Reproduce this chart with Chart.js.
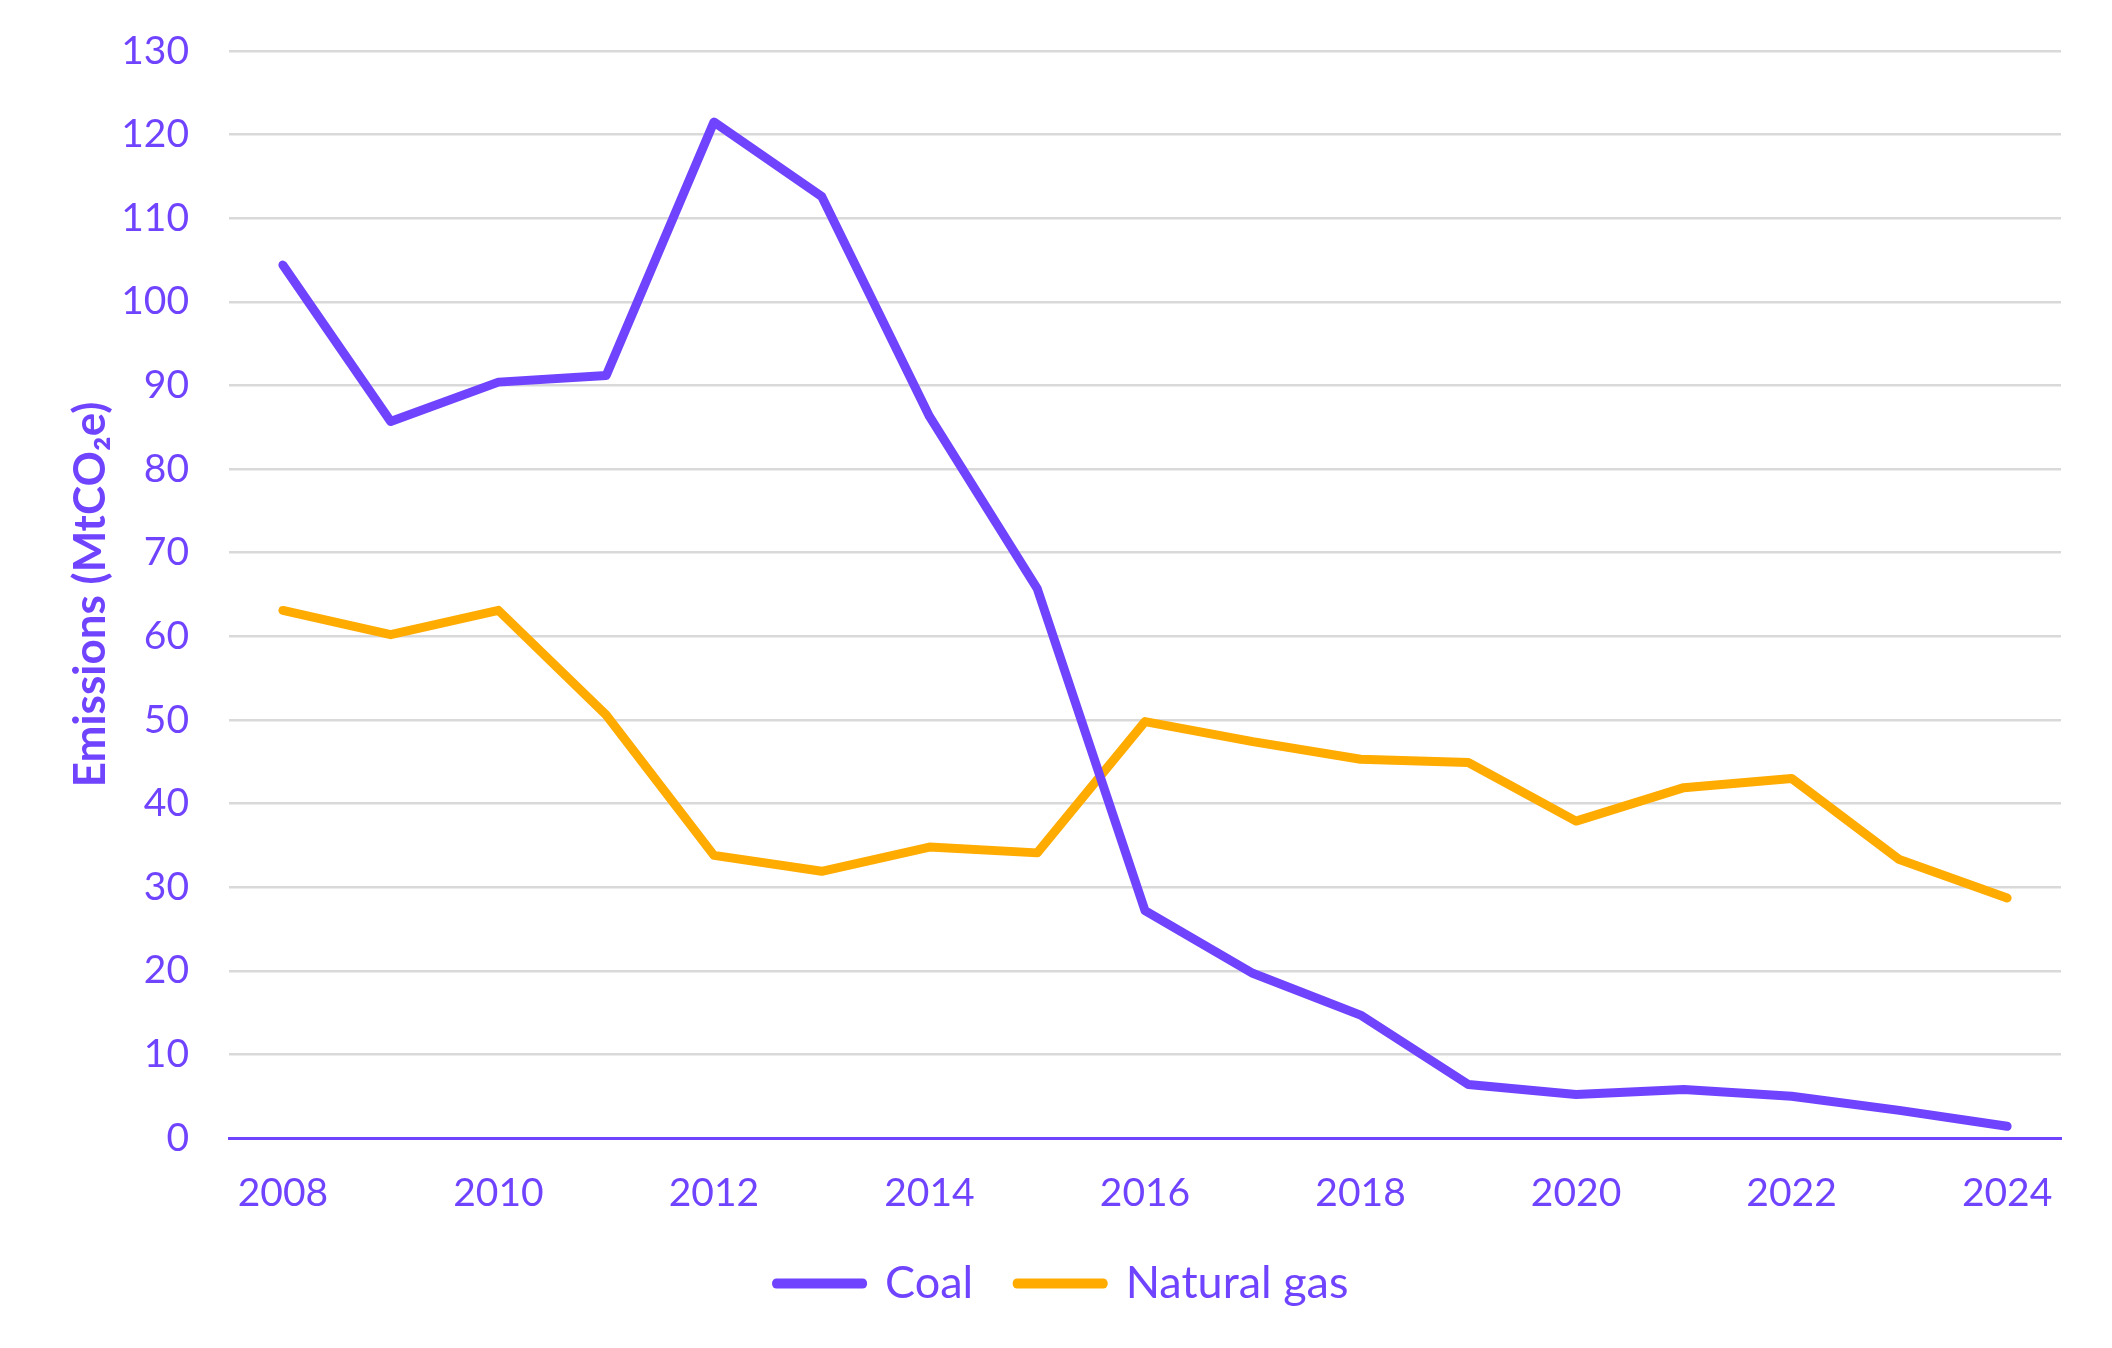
<!DOCTYPE html>
<html>
<head>
<meta charset="utf-8">
<script src="https://cdn.jsdelivr.net/npm/chart.js@4"></script>
<style>
  html, body { margin: 0; padding: 0; background: #ffffff; }
  #wrap { width: 2112px; height: 1348px; }
</style>
</head>
<body>
<div id="wrap"><canvas id="c" width="2112" height="1348"></canvas></div>
<script>
const years = ['2008','2009','2010','2011','2012','2013','2014','2015','2016','2017','2018','2019','2020','2021','2022','2023','2024'];
const coal = [104.4, 85.7, 90.4, 91.2, 121.5, 112.6, 86.3, 65.7, 27.2, 19.7, 14.7, 6.4, 5.2, 5.8, 5.0, 3.3, 1.4];
const naturalGas = [63.1, 60.2, 63.1, 50.6, 33.8, 31.9, 34.8, 34.1, 49.8, 47.4, 45.3, 44.9, 37.9, 41.9, 43.0, 33.3, 28.7];
const seriesNames = ['Coal', 'Natural gas'];
const yTitle = 'Emissions (MtCO₂e)';

const PURPLE = '#7044FF';
const ORANGE = '#FFAB00';
const FONT = 'Lato, "Open Sans", sans-serif';

new Chart(document.getElementById('c'), {
  type: 'line',
  data: {
    labels: years,
    datasets: [
      { label: seriesNames[0], data: coal, borderColor: PURPLE, backgroundColor: PURPLE,
        borderWidth: 9, pointRadius: 0, borderJoinStyle: 'round', borderCapStyle: 'round', tension: 0 },
      { label: seriesNames[1], data: naturalGas, borderColor: ORANGE, backgroundColor: ORANGE,
        borderWidth: 9, pointRadius: 0, borderJoinStyle: 'round', borderCapStyle: 'round', tension: 0 }
    ]
  },
  options: {
    responsive: false,
    animation: false,
    layout: { padding: { top: 51, right: 51, bottom: 32, left: 64 } },
    plugins: {
      tooltip: { enabled: false },
      legend: {
        position: 'bottom',
        labels: {
          color: PURPLE,
          font: { family: FONT, size: 45 },
          boxWidth: 86,
          boxHeight: 1,
          padding: 44,
          generateLabels(chart) {
            return chart.data.datasets.map((ds, i) => ({
              text: ds.label,
              fillStyle: ds.borderColor,
              strokeStyle: ds.borderColor,
              lineWidth: 9,
              lineJoin: 'round',
              fontColor: PURPLE,
              hidden: false,
              datasetIndex: i
            }));
          }
        }
      }
    },
    scales: {
      x: {
        offset: true,
        afterFit(scale) { scale.height = 79; },
        grid: { display: false, drawTicks: false },
        border: { display: true, color: PURPLE, width: 3 },
        ticks: {
          color: PURPLE,
          font: { family: FONT, size: 39 },
          padding: 32,
          autoSkip: false,
          maxRotation: 0,
          callback: function(v, i) { return i % 2 === 0 ? this.getLabelForValue(v) : ''; }
        }
      },
      y: {
        min: 0,
        max: 130,
        afterFit(scale) { scale.width = 165; scale.paddingTop = 0; scale.paddingBottom = 0; },
        grid: {
          color: (ctx) => ctx.tick && ctx.tick.value === 0 ? 'rgba(0,0,0,0)' : '#D9D9D9',
          lineWidth: 2.5,
          drawTicks: false
        },
        border: { display: false },
        ticks: {
          stepSize: 10,
          color: PURPLE,
          font: { family: FONT, size: 39 },
          padding: 40
        },
        title: {
          display: true,
          text: yTitle,
          color: PURPLE,
          font: { family: FONT, size: 44, weight: 'bold' },
          padding: { top: 0, bottom: 0 }
        }
      }
    }
  }
});
</script>
</body>
</html>
